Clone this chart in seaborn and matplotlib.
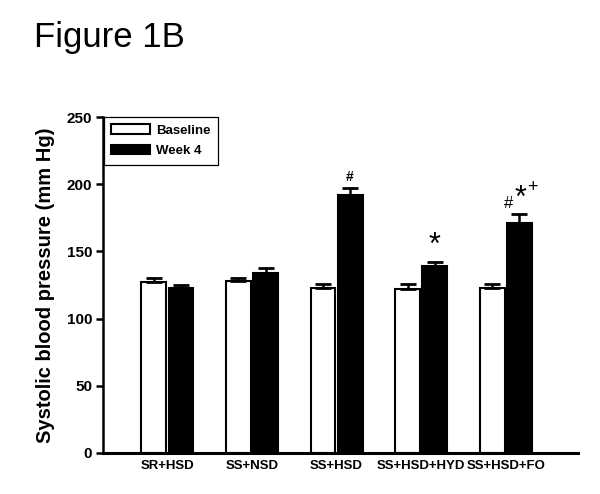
import pandas as pd
import numpy as np
import matplotlib
matplotlib.use('Agg')
import matplotlib.pyplot as plt
import seaborn as sns

groups = ['SR+HSD', 'SS+NSD', 'SS+HSD', 'SS+HSD+HYD', 'SS+HSD+FO']
baseline = [127, 128, 123, 122, 123]
baseline_err = [3, 2, 3, 4, 3]
week4 = [123, 134, 192, 139, 171]
week4_err = [2, 4, 5, 3, 7]
marks = ['', '', '#', '*', '#*+']

df = pd.DataFrame({
    'group': groups * 2,
    'time': ['Baseline'] * 5 + ['Week 4'] * 5,
    'sbp': baseline + week4,
})
errs = baseline_err + week4_err

sns.set_style('white')
plt.rcParams['font.family'] = ['Liberation Sans', 'DejaVu Sans']
plt.rcParams['text.color'] = 'black'
plt.rcParams['axes.labelcolor'] = 'black'
plt.rcParams['xtick.color'] = 'black'
plt.rcParams['ytick.color'] = 'black'

fig = plt.figure(figsize=(6, 4.94), dpi=100)
ax = fig.add_axes([0.172, 0.083, 0.792, 0.68])

sns.barplot(data=df, x='group', y='sbp', hue='time', palette=['white', 'black'],
            edgecolor='black', linewidth=1.5, width=0.64, gap=0.08, errorbar=None, ax=ax)

# upper-only error bars, positioned from the drawn bars
bars = [p for p in ax.patches if p.get_height() > 0][:10]
for i, p in enumerate(bars):
    xc = p.get_x() + p.get_width() / 2
    ax.errorbar(xc, p.get_height(), yerr=[[0], [errs[i]]], fmt='none',
                ecolor='black', elinewidth=1.8, capsize=6, capthick=2)

# significance marks above week 4 bars
for i in range(5):
    p = bars[5 + i]
    xc = p.get_x() + p.get_width() / 2
    top = p.get_height() + week4_err[i]
    if marks[i] == '#':
        ax.text(xc, top + 3, '#', ha='center', va='bottom', fontsize=10, fontweight='bold')
    elif marks[i] == '*':
        ax.text(xc, top + 1, '*', ha='center', va='bottom', fontsize=22)
    elif marks[i] == '#*+':
        ax.text(xc - 0.13, top + 2, '#', ha='center', va='bottom', fontsize=12)
        ax.text(xc + 0.01, top + 0, '*', ha='center', va='bottom', fontsize=22)
        ax.text(xc + 0.16, top + 13, '+', ha='center', va='bottom', fontsize=13)

ax.set_ylim(0, 250)
ax.set_xlim(-0.76, 4.86)
ax.set_yticks([0, 50, 100, 150, 200, 250])
ax.set_ylabel('Systolic blood pressure (mm Hg)', fontsize=14.5, fontweight='bold', labelpad=8)
ax.set_xlabel('')
ax.tick_params(axis='y', direction='out', length=5, width=1.8, left=True, labelsize=11, pad=3)
ax.tick_params(axis='x', length=0, labelsize=9.5, pad=5)
for lbl in ax.get_xticklabels() + ax.get_yticklabels():
    lbl.set_fontweight('bold')
sns.despine(ax=ax)
ax.spines['left'].set_linewidth(1.8)
ax.spines['bottom'].set_linewidth(2.2)
ax.spines['left'].set_color('black')
ax.spines['bottom'].set_color('black')

leg = ax.legend(loc='upper left', bbox_to_anchor=(0.002, 1.0), fancybox=False,
                edgecolor='black', framealpha=1, prop={'weight': 'bold', 'size': 9.5},
                handlelength=2.9, handleheight=0.7, labelspacing=0.65,
                borderaxespad=0, borderpad=0.55, handletextpad=0.5)
leg.get_frame().set_linewidth(0.9)
for h in leg.legend_handles:
    h.set_linewidth(1.5)

fig.text(0.057, 0.905, 'Figure 1B', fontsize=25)

fig.savefig('out.png', dpi=100)
